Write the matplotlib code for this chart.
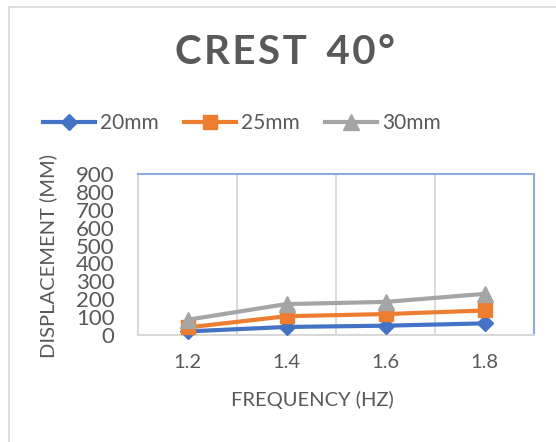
import matplotlib

matplotlib.use("Agg")
import matplotlib.pyplot as plt
from matplotlib.lines import Line2D

plt.rcParams["font.family"] = ["Lato", "DejaVu Sans"]

# data
frequencies = ["1.2", "1.4", "1.6", "1.8"]
disp_20mm = [20, 45, 52, 65]
disp_25mm = [42, 105, 117, 137]
disp_30mm = [85, 173, 185, 230]
series_labels = ["20mm", "25mm", "30mm"]
y_ticks = list(range(0, 1000, 100))

TEXT = "#595959"
GRID = "#D9D9D9"

W, H = 556, 442
fig = plt.figure(figsize=(W / 100, H / 100), dpi=100)

# chart frame (only top and left edges visible)
fig.add_artist(Line2D([9 / W, 1], [1 - 7 / H, 1 - 7 / H], color=GRID, lw=1.2))
fig.add_artist(Line2D([9 / W, 9 / W], [0, 1 - 7 / H], color=GRID, lw=1.2))

ax = fig.add_axes([138 / W, 1 - 335 / H, 396 / W, 161 / H])

x = range(len(frequencies))
styles = [
    (disp_20mm, "#4472C4", "D", 8),
    (disp_25mm, "#ED7D31", "s", 10),
    (disp_30mm, "#A5A5A5", "^", 11),
]
for (vals, color, marker, ms), label in zip(styles, series_labels):
    ax.plot(x, vals, color=color, lw=3, marker=marker, markersize=ms,
            label=label, zorder=3, clip_on=False)

ax.set_xlim(-0.5, len(frequencies) - 0.5)
ax.set_ylim(0, 900)
ax.set_yticks(y_ticks)
ax.set_yticklabels([str(v) for v in y_ticks], fontsize=16, color=TEXT)
ax.set_xticks(list(x))
ax.set_xticklabels(frequencies, fontsize=14.5, color=TEXT)
ax.tick_params(axis="both", length=0)
ax.tick_params(axis="y", pad=17)
ax.tick_params(axis="x", pad=14)

for xv in [0.5, 1.5, 2.5]:
    ax.axvline(xv, color=GRID, lw=1.3, zorder=1)

ax.spines["left"].set_color(GRID)
ax.spines["left"].set_linewidth(1.5)
ax.spines["bottom"].set_color(GRID)
ax.spines["bottom"].set_linewidth(1.5)
for s in ["top", "right"]:
    ax.spines[s].set_color("#8EA9E0")
    ax.spines[s].set_linewidth(1.5)
    ax.spines[s].set_linestyle((0, (1, 1)))

fig.text(285 / W, 1 - 52 / H, "\u200a".join("CREST") + "  " + "\u200a".join("40°"),
         ha="center", va="center", fontsize=29, fontweight="bold", color=TEXT)

fig.text(312 / W, 1 - 400 / H, "FREQUENCY (HZ)", ha="center", va="center",
         fontsize=14.5, color=TEXT)
fig.text(48 / W, 1 - 256 / H, "DISPLACEMENT (MM)", ha="center", va="center",
         rotation=90, fontsize=14.5, color=TEXT)

fig.legend(loc="center", bbox_to_anchor=(242 / W, 1 - 123 / H), ncol=3,
           frameon=False, fontsize=15, labelcolor=TEXT, handlelength=2.5,
           handletextpad=0.25, columnspacing=1.2)

fig.savefig("out.png", dpi=100)
plt.close(fig)
